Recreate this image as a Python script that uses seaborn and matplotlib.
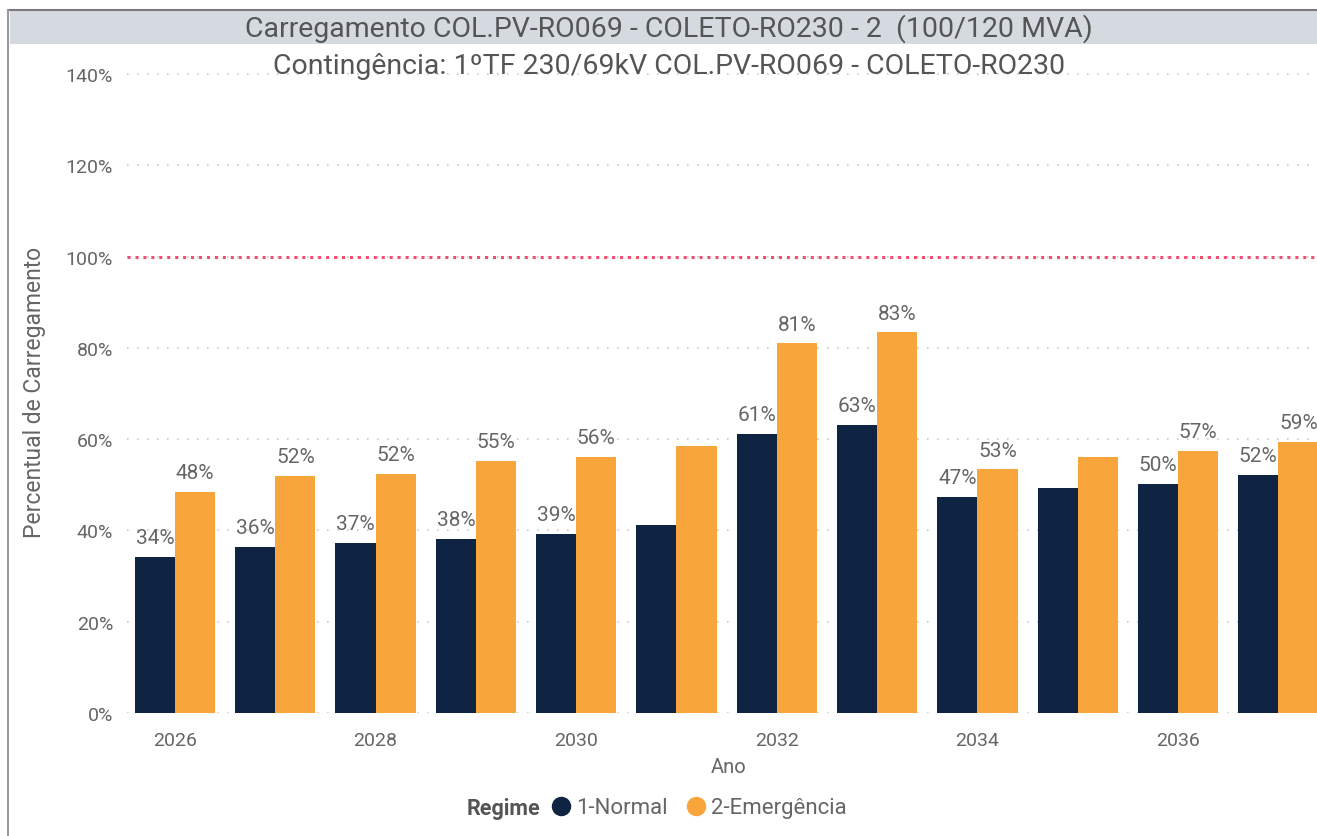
import numpy as np
import pandas as pd
import matplotlib
matplotlib.use("Agg")
import matplotlib.pyplot as plt
from matplotlib.patches import Rectangle
from matplotlib.lines import Line2D
import seaborn as sns

# data
years = [2026, 2027, 2028, 2029, 2030, 2031, 2032, 2033, 2034, 2035, 2036, 2037]
normal = [34.2, 36.4, 37.2, 38.1, 39.2, 41.2, 61.1, 63.1, 47.3, 49.3, 50.2, 52.1]
emergencia = [48.4, 51.9, 52.4, 55.2, 56.1, 58.5, 81.0, 83.4, 53.4, 56.1, 57.4, 59.4]
hidden_label_years = [2031, 2035]   # labels Power BI dropped
regimes = ["1-Normal", "2-Emergência"]
limite = 100

title = "Carregamento COL.PV-RO069 - COLETO-RO230 - 2  (100/120 MVA)"
subtitle = "Contingência: 1ºTF 230/69kV COL.PV-RO069 - COLETO-RO230"

df = pd.DataFrame({
    "Ano": years * 2,
    "Regime": [regimes[0]] * len(years) + [regimes[1]] * len(years),
    "Valor": normal + emergencia,
})

sns.set_style("white")
plt.rcParams["font.family"] = ["Roboto", "DejaVu Sans"]

navy = "#0F2342"
orange = "#F8A53B"
grey_txt = "#666666"

fig = plt.figure(figsize=(13.17, 8.37), dpi=100)

# axes geometry: 0% at y=714px, 140% at y=75px
W, H = 1317, 837
px_per_pct = (714 - 75) / 140
ymax = 141
top_px = 714 - ymax * px_per_pct
ax_left, ax_right = 127, 1330
ax = fig.add_axes([ax_left / W, 1 - 714 / H, (ax_right - ax_left) / W, (714 - top_px) / H])

sns.barplot(data=df, x="Ano", y="Valor", hue="Regime", palette=[navy, orange],
            width=0.8, saturation=1, ax=ax, legend=False, linewidth=0)

step = 100.3
ax.set_ylim(0, ymax)
ax.set_xlim(-(175 - ax_left) / step, (ax_right - 175) / step)
ax.set_yticks(range(0, 141, 20))
ax.set_yticklabels([f"{v}%" for v in range(0, 141, 20)])
ax.set_xticks(range(0, len(years), 2))
ax.set_xticklabels([str(y) for y in years[::2]])
ax.tick_params(axis="both", length=0, labelsize=14, labelcolor=grey_txt)
ax.tick_params(axis="x", pad=13)
ax.tick_params(axis="y", pad=10)

for v in range(0, 141, 20):
    ax.axhline(v, color="#C8C8C8", lw=1.2, ls=(0, (1, 5)), zorder=0)
ax.axhline(limite, color="#F0506E", lw=2.2, ls=(0, (1, 1.6)), zorder=1)

for s in ax.spines.values():
    s.set_visible(False)

ax.set_xlabel("Ano", fontsize=14.5, color=grey_txt, labelpad=6)
ax.set_ylabel("Percentual de Carregamento", fontsize=16.5, color=grey_txt, labelpad=14)

for cont, vals in zip(ax.containers, [normal, emergencia]):
    labs = ["" if y in hidden_label_years else f"{v:.0f}%" for y, v in zip(years, vals)]
    ax.bar_label(cont, labels=labs, padding=7, fontsize=15, color=grey_txt)

# frame and title banner
fig.add_artist(Rectangle((10 / W, 1 - 45 / H), 1, 34 / H, transform=fig.transFigure,
                         facecolor="#D5DAE1", edgecolor="none", zorder=0))
fig.add_artist(Line2D([8 / W, 1], [1 - 11 / H, 1 - 11 / H], transform=fig.transFigure,
                      color="#7A7A7A", lw=1.5))
fig.add_artist(Line2D([8 / W, 8 / W], [0, 1 - 11 / H], transform=fig.transFigure,
                      color="#9A9A9A", lw=1.5))

fig.text(669 / W, 1 - 29 / H, title, ha="center", va="center", fontsize=20.5, color="#555555")
fig.text(669 / W, 1 - 66 / H, subtitle, ha="center", va="center", fontsize=20.5, color="#555555")

# legend
fig.text(540 / W, 1 - 809 / H, "Regime", ha="right", va="center", fontsize=15.5,
         fontweight="bold", color="#555555")
handles = [Line2D([], [], marker="o", ls="", markersize=13, color=c) for c in [navy, orange]]
fig.legend(handles, regimes, loc="center left", bbox_to_anchor=(548 / W, 1 - 809 / H),
           ncol=2, frameon=False, fontsize=16, labelcolor=grey_txt, handletextpad=0.05,
           columnspacing=0.7, handlelength=1.2, borderaxespad=0, borderpad=0)

fig.savefig("out.png", dpi=100)
